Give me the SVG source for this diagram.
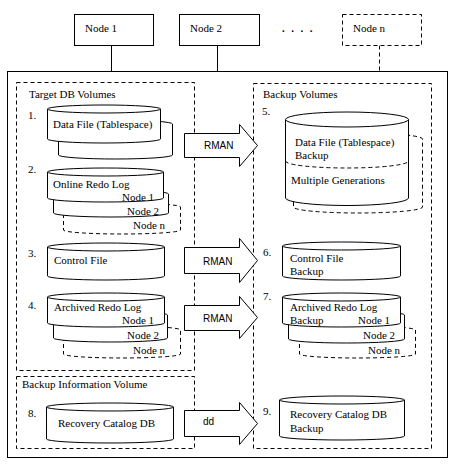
<svg xmlns="http://www.w3.org/2000/svg" width="460" height="470" viewBox="0 0 460 470">
<style>
.s{fill:#fff;stroke:#000;stroke-width:1}
.n{fill:none;stroke:#000;stroke-width:1}
.d{stroke-dasharray:4 3}
.t{font-family:'Liberation Serif','DejaVu Serif',serif;font-size:11px;fill:#000}
.a{font-family:'Liberation Sans','DejaVu Sans',sans-serif;font-size:10px;fill:#000}
</style>
<rect x="0" y="0" width="460" height="470" fill="#fff"/>

<g id="connectors">
<line class="n" x1="111.5" y1="45.5" x2="111.5" y2="71.5"/>
<line class="n" x1="217.5" y1="45.5" x2="217.5" y2="71.5"/>
<line class="n d" x1="379.5" y1="45.5" x2="379.5" y2="71.5"/>
</g>

<g id="node1"><rect class="s" x="74.5" y="14.5" width="79" height="31"/><text class="t" x="85" y="32" font-family="Liberation Serif, serif">Node 1</text></g>
<g id="node2"><rect class="s" x="179.5" y="14.5" width="80" height="31"/><text class="t" x="190" y="32">Node 2</text></g>
<g id="dots"><text class="t" x="282" y="32" style="font-weight:bold;letter-spacing:6.5px">....</text></g>
<g id="noden"><rect class="s d" x="342.5" y="14.5" width="79" height="31"/><text class="t" x="353" y="32">Node n</text></g>

<g id="storage">
<rect class="n" x="7.5" y="71.5" width="440" height="386"/>
</g>

<g id="target-db-volumes">
<rect class="n d" x="16.5" y="82.5" width="178" height="288"/>
<text class="t" x="29" y="98">Target DB Volumes</text>
</g>

<g id="datafile">
<text class="t" x="28" y="119">1.</text>
<path class="s" d="M58.5,124 V155 A57,4 0 0 0 172.5,155 V124 A57,4 0 0 0 58.5,124 Z"/>
<path class="s" d="M47.5,109 V139 A56.5,4 0 0 0 160.5,139 V109 A56.5,4 0 0 0 47.5,109 Z"/>
<path class="n" d="M47.5,109 A56.5,4 0 0 0 160.5,109"/>
<text class="t" x="53" y="128">Data File (Tablespace)</text>
</g>

<g id="online-redo">
<text class="t" x="28" y="173">2.</text>
<path class="s d" d="M63.5,207 V230 A58.5,4 0 0 0 180.5,230 V207 A58.5,4 0 0 0 63.5,207 Z"/>
<path class="s" d="M53.5,194 V213 A57.5,4 0 0 0 168.5,213 V194 A57.5,4 0 0 0 53.5,194 Z"/>
<path class="s" d="M47.5,172 V198 A58,4 0 0 0 163.5,198 V172 A58,4 0 0 0 47.5,172 Z"/>
<path class="n" d="M47.5,172 A58,4 0 0 0 163.5,172"/>
<text class="t" x="53" y="188">Online Redo Log</text>
<text class="t" x="122" y="201">Node 1</text>
<text class="t" x="127" y="215">Node 2</text>
<text class="t" x="133" y="229">Node n</text>
</g>

<g id="controlfile">
<text class="t" x="28" y="257">3.</text>
<path class="s" d="M47.5,247 V276 A58.5,4 0 0 0 164.5,276 V247 A58.5,4 0 0 0 47.5,247 Z"/>
<path class="n" d="M47.5,247 A58.5,4 0 0 0 164.5,247"/>
<text class="t" x="54" y="264">Control File</text>
</g>

<g id="archived-redo">
<text class="t" x="28" y="309">4.</text>
<path class="s d" d="M63.5,330 V354 A58.5,4 0 0 0 180.5,354 V330 A58.5,4 0 0 0 63.5,330 Z"/>
<path class="s" d="M53.5,315 V338 A57,4 0 0 0 167.5,338 V315 A57,4 0 0 0 53.5,315 Z"/>
<path class="s" d="M47.5,297 V323 A58.5,4 0 0 0 164.5,323 V297 A58.5,4 0 0 0 47.5,297 Z"/>
<path class="n" d="M47.5,297 A58.5,4 0 0 0 164.5,297"/>
<text class="t" x="54" y="311">Archived Redo Log</text>
<text class="t" x="122" y="324">Node 1</text>
<text class="t" x="127" y="339">Node 2</text>
<text class="t" x="133" y="354">Node n</text>
</g>

<g id="backup-info-volume">
<rect class="n d" x="16.5" y="376.5" width="178" height="72"/>
<text class="t" x="22" y="388">Backup Information Volume</text>
</g>

<g id="recovery-catalog">
<text class="t" x="28" y="417">8.</text>
<path class="s" d="M46.5,407 V439 A63.5,4 0 0 0 173.5,439 V407 A63.5,4 0 0 0 46.5,407 Z"/>
<path class="n" d="M46.5,407 A63.5,4 0 0 0 173.5,407"/>
<text class="t" x="58" y="427">Recovery Catalog DB</text>
</g>

<g id="backup-volumes">
<rect class="n d" x="253.5" y="83.5" width="178" height="365"/>
<text class="t" x="263" y="98">Backup Volumes</text>
</g>

<g id="datafile-backup">
<text class="t" x="262" y="115">5.</text>
<path class="s d" d="M293.5,139 V207 A64.5,6 0 0 0 422.5,207 V139 A64.5,6 0 0 0 293.5,139 Z"/>
<path class="s" d="M285.5,119.5 V198 A61.5,7.5 0 0 0 408.5,198 V119.5 A61.5,7.5 0 0 0 285.5,119.5 Z"/>
<path class="n" d="M285.5,119.5 A61.5,7.5 0 0 0 408.5,119.5"/>
<path class="n d" d="M285.5,161 A61.5,7 0 0 0 408.5,161"/>
<text class="t" x="295" y="146">Data File (Tablespace)</text>
<text class="t" x="295" y="159">Backup</text>
<text class="t" x="291" y="184">Multiple Generations</text>
</g>

<g id="controlfile-backup">
<text class="t" x="263" y="256">6.</text>
<path class="s" d="M282.5,246 V276 A59,4 0 0 0 400.5,276 V246 A59,4 0 0 0 282.5,246 Z"/>
<path class="n" d="M282.5,246 A59,4 0 0 0 400.5,246"/>
<text class="t" x="290" y="262">Control File</text>
<text class="t" x="290" y="275">Backup</text>
</g>

<g id="archived-redo-backup">
<text class="t" x="263" y="300">7.</text>
<path class="s d" d="M299.5,330 V354 A58,4 0 0 0 415.5,354 V330 A58,4 0 0 0 299.5,330 Z"/>
<path class="s" d="M288.5,315 V339 A58,4 0 0 0 404.5,339 V315 A58,4 0 0 0 288.5,315 Z"/>
<path class="s" d="M282.5,297 V323 A59,4 0 0 0 400.5,323 V297 A59,4 0 0 0 282.5,297 Z"/>
<path class="n" d="M282.5,297 A59,4 0 0 0 400.5,297"/>
<text class="t" x="290" y="311">Archived Redo Log</text>
<text class="t" x="290" y="324">Backup</text>
<text class="t" x="358" y="324">Node 1</text>
<text class="t" x="363" y="339">Node 2</text>
<text class="t" x="368" y="354">Node n</text>
</g>

<g id="recovery-catalog-backup">
<text class="t" x="263" y="415">9.</text>
<path class="s" d="M279.5,400 V436 A62.5,4 0 0 0 404.5,436 V400 A62.5,4 0 0 0 279.5,400 Z"/>
<path class="n" d="M279.5,400 A62.5,4 0 0 0 404.5,400"/>
<text class="t" x="290" y="418">Recovery Catalog DB</text>
<text class="t" x="290" y="432">Backup</text>
</g>

<g id="arrows">
<polygon class="s" points="184.5,133.5 239.5,133.5 239.5,124.5 257.5,145.5 239.5,166.5 239.5,157.5 184.5,157.5"/>
<text class="a" x="204" y="149">RMAN</text>
<polygon class="s" points="184.5,247.5 239.5,247.5 239.5,238.5 257.5,260.5 239.5,282.5 239.5,273.5 184.5,273.5"/>
<text class="a" x="203" y="265">RMAN</text>
<polygon class="s" points="184.5,305.5 239.5,305.5 239.5,296.5 257.5,317.5 239.5,338.5 239.5,330.5 184.5,330.5"/>
<text class="a" x="203" y="322">RMAN</text>
<polygon class="s" points="184.5,410.5 239.5,410.5 239.5,402.5 257.5,423.5 239.5,444.5 239.5,436.5 184.5,436.5"/>
<text class="a" x="203" y="425">dd</text>
</g>
</svg>
